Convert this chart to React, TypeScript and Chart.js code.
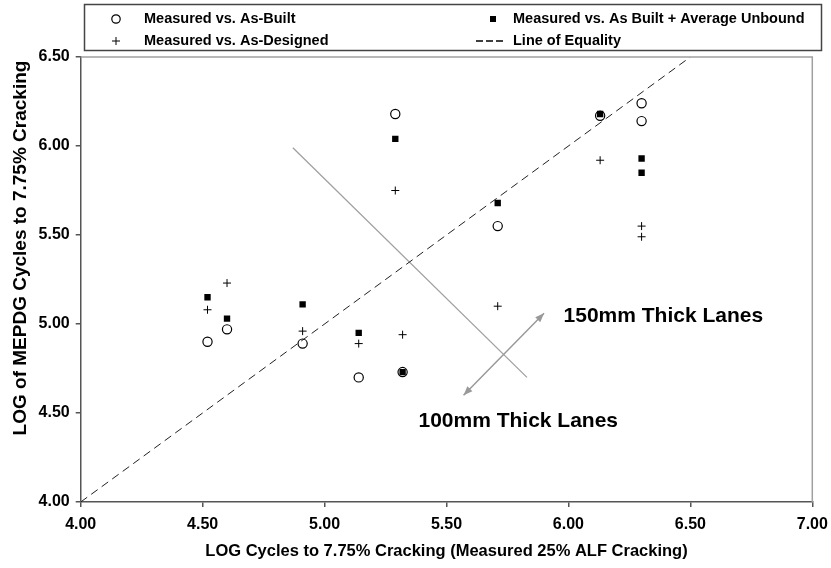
import { useEffect, useRef } from "react";
import { Chart, registerables } from "chart.js";

Chart.register(...registerables);

// Measured log cycles to 7.75% cracking (x) shared by the three predicted series
const measuredLog = [4.52, 4.6, 4.91, 5.14, 5.29, 5.32, 5.71, 6.13, 6.3, 6.3];
const asBuilt = [4.9, 4.97, 4.89, 4.7, 6.18, 4.73, 5.55, 6.17, 6.24, 6.14];
const asBuiltUnbound = [5.15, 5.03, 5.11, 4.95, 6.04, 4.73, 5.68, 6.18, 5.93, 5.85];
const asDesigned = [5.08, 5.23, 4.96, 4.89, 5.75, 4.94, 5.1, 5.92, 5.55, 5.49];

// 1:1 reference line
const equalityX = [4.0, 6.5];
const equalityY = [4.0, 6.5];

// Divider between the two lane thicknesses and the double arrow across it
const dividerX = [4.87, 5.83];
const dividerY = [5.99, 4.7];
const arrowX = [5.57, 5.9];
const arrowY = [4.6, 5.06];

const laneLabels = ["150mm Thick Lanes", "100mm Thick Lanes"];
const laneLabelX = [5.98, 5.385];
const laneLabelY = [5.045, 4.455];

const legendLabels = [
  "Measured vs. As-Built",
  "Measured vs. As Built + Average Unbound",
  "Measured vs. As-Designed",
  "Line of Equality",
];

const xTitle = "LOG Cycles to 7.75% Cracking (Measured 25% ALF Cracking)";
const yTitle = "LOG of MEPDG Cycles to 7.75% Cracking";

const FONT = "'Liberation Sans', Arial, sans-serif";

const zip = (xs: number[], ys: number[]) => xs.map((x, i) => ({ x, y: ys[i] }));

const decorPlugin = {
  id: "decor",
  afterDatasetsDraw(chart: any) {
    const { ctx, chartArea, scales } = chart;
    const sx = scales.x;
    const sy = scales.y;
    ctx.save();

    // lighter frame on top and right
    ctx.strokeStyle = "#a0a0a0";
    ctx.lineWidth = 1.5;
    ctx.beginPath();
    ctx.moveTo(chartArea.left, chartArea.top);
    ctx.lineTo(chartArea.right, chartArea.top);
    ctx.lineTo(chartArea.right, chartArea.bottom);
    ctx.stroke();

    // double-headed arrow
    const x1 = sx.getPixelForValue(arrowX[0]);
    const y1 = sy.getPixelForValue(arrowY[0]);
    const x2 = sx.getPixelForValue(arrowX[1]);
    const y2 = sy.getPixelForValue(arrowY[1]);
    ctx.strokeStyle = "#999";
    ctx.fillStyle = "#999";
    ctx.lineWidth = 1.5;
    ctx.beginPath();
    ctx.moveTo(x1, y1);
    ctx.lineTo(x2, y2);
    ctx.stroke();
    const head = (tx: number, ty: number, fx: number, fy: number) => {
      const a = Math.atan2(ty - fy, tx - fx);
      const len = 9;
      const w = 3.5;
      const bx = tx - len * Math.cos(a);
      const by = ty - len * Math.sin(a);
      ctx.beginPath();
      ctx.moveTo(tx, ty);
      ctx.lineTo(bx + w * Math.sin(a), by - w * Math.cos(a));
      ctx.lineTo(bx - w * Math.sin(a), by + w * Math.cos(a));
      ctx.closePath();
      ctx.fill();
    };
    head(x1, y1, x2, y2);
    head(x2, y2, x1, y1);

    // lane labels
    ctx.fillStyle = "#000";
    ctx.font = `bold 21px ${FONT}`;
    ctx.textAlign = "left";
    ctx.textBaseline = "middle";
    laneLabels.forEach((t, i) => {
      ctx.fillText(t, sx.getPixelForValue(laneLabelX[i]), sy.getPixelForValue(laneLabelY[i]));
    });
    ctx.restore();
  },
  afterDraw(chart: any) {
    const { ctx } = chart;
    ctx.save();

    // vertical axis title
    ctx.fillStyle = "#000";
    ctx.font = `bold 19px ${FONT}`;
    ctx.textAlign = "center";
    ctx.textBaseline = "middle";
    ctx.translate(21, 248);
    ctx.rotate(-Math.PI / 2);
    ctx.fillText(yTitle, 0, 0);
    ctx.setTransform(1, 0, 0, 1, 0, 0);

    // legend box
    ctx.strokeStyle = "#444";
    ctx.lineWidth = 1.5;
    ctx.strokeRect(84.5, 4.5, 737, 46);

    const rows = [19, 41];
    const markX = [116, 493];
    const textX = [144, 513];
    ctx.fillStyle = "#000";
    ctx.font = `bold 14.5px ${FONT}`;
    ctx.textAlign = "left";
    ctx.textBaseline = "middle";

    // circle
    ctx.strokeStyle = "#000";
    ctx.lineWidth = 1.2;
    ctx.beginPath();
    ctx.arc(markX[0], rows[0], 4.2, 0, Math.PI * 2);
    ctx.stroke();
    ctx.fillText(legendLabels[0], textX[0], rows[0]);

    // square
    ctx.fillRect(markX[1] - 3, rows[0] - 3, 6, 6);
    ctx.fillText(legendLabels[1], textX[1], rows[0]);

    // cross
    ctx.lineWidth = 1;
    ctx.beginPath();
    ctx.moveTo(markX[0] - 4, rows[1]);
    ctx.lineTo(markX[0] + 4, rows[1]);
    ctx.moveTo(markX[0], rows[1] - 4);
    ctx.lineTo(markX[0], rows[1] + 4);
    ctx.stroke();
    ctx.fillText(legendLabels[2], textX[0], rows[1]);

    // dashed line
    ctx.setLineDash([7, 3]);
    ctx.lineWidth = 1.3;
    ctx.beginPath();
    ctx.moveTo(476, rows[1]);
    ctx.lineTo(504, rows[1]);
    ctx.stroke();
    ctx.setLineDash([]);
    ctx.fillText(legendLabels[3], textX[1], rows[1]);
    ctx.restore();
  },
};

export default function App() {
  const canvasRef = useRef<HTMLCanvasElement | null>(null);

  useEffect(() => {
    if (!canvasRef.current) return;
    const tickFont = { family: FONT, size: 16, weight: "bold" as const };
    const chart = new Chart(canvasRef.current, {
      type: "scatter",
      data: {
        datasets: [
          {
            label: legendLabels[1],
            data: zip(measuredLog, asBuiltUnbound),
            pointStyle: "rect",
            pointRadius: 4.5,
            backgroundColor: "#000",
            borderColor: "#000",
            borderWidth: 0,
            order: 0,
          },
          {
            label: legendLabels[2],
            data: zip(measuredLog, asDesigned),
            pointStyle: "cross",
            pointRadius: 4,
            borderColor: "#000",
            borderWidth: 1,
            order: 1,
          },
          {
            label: legendLabels[0],
            data: zip(measuredLog, asBuilt),
            pointStyle: "circle",
            pointRadius: 4.6,
            backgroundColor: "rgba(0,0,0,0)",
            borderColor: "#000",
            borderWidth: 1.2,
            order: 2,
          },
          {
            label: legendLabels[3],
            data: zip(equalityX, equalityY),
            showLine: true,
            pointRadius: 0,
            borderColor: "#222",
            borderWidth: 1,
            borderDash: [8, 5],
            order: 3,
          },
          {
            label: "divider",
            data: zip(dividerX, dividerY),
            showLine: true,
            pointRadius: 0,
            borderColor: "#a0a0a0",
            borderWidth: 1.3,
            order: 4,
          },
        ],
      },
      options: {
        responsive: false,
        animation: false,
        events: [],
        layout: { padding: { left: 0, top: 57, right: 18.7, bottom: 0 } },
        plugins: {
          legend: { display: false },
          tooltip: { enabled: false },
        },
        scales: {
          x: {
            type: "linear",
            min: 4,
            max: 7,
            afterFit: (s: any) => {
              s.height = 66;
              s.paddingLeft = 0;
              s.paddingRight = 0;
            },
            ticks: {
              stepSize: 0.5,
              padding: 8,
              color: "#000",
              font: tickFont,
              callback: (v: any) => Number(v).toFixed(2),
            },
            grid: {
              drawOnChartArea: false,
              drawTicks: true,
              tickLength: 5,
              color: "#555",
              lineWidth: 1.5,
            },
            border: { display: true, color: "#555", width: 1.5 },
            title: {
              display: true,
              text: xTitle,
              color: "#000",
              font: { family: FONT, size: 16.5, weight: "bold" },
              padding: { top: 0, bottom: 7 },
            },
          },
          y: {
            type: "linear",
            min: 4,
            max: 6.5,
            afterFit: (s: any) => {
              s.width = 80.7;
              s.paddingTop = 0;
              s.paddingBottom = 0;
            },
            ticks: {
              stepSize: 0.5,
              padding: 6,
              color: "#000",
              font: tickFont,
              callback: (v: any) => Number(v).toFixed(2),
            },
            grid: {
              drawOnChartArea: false,
              drawTicks: true,
              tickLength: 5,
              color: "#555",
              lineWidth: 1.5,
            },
            border: { display: true, color: "#555", width: 1.5 },
            title: { display: false },
          },
        },
      },
      plugins: [decorPlugin],
    });
    return () => chart.destroy();
  }, []);

  return (
    <div style={{ position: "fixed", left: 0, top: 0, width: 831, height: 568, background: "#fff" }}>
      <canvas ref={canvasRef} width={831} height={568} />
    </div>
  );
}
